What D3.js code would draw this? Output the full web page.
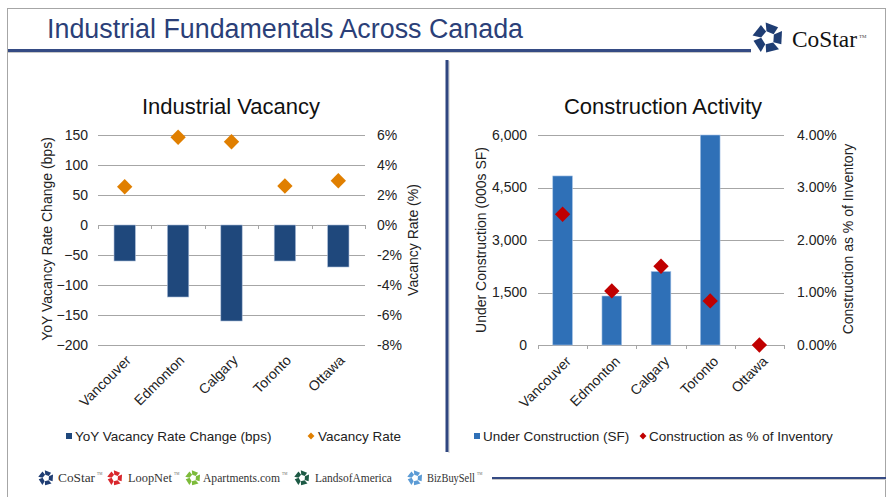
<!DOCTYPE html>
<html>
<head>
<meta charset="utf-8">
<script src="https://cdn.jsdelivr.net/npm/d3@7"></script>
<style>
  body { margin: 0; background: #fff; }
  text { font-family: "Liberation Sans", Arial, sans-serif; }
  .serif { font-family: "Liberation Serif", "Times New Roman", serif; }
</style>
</head>
<body>
<div id="slide"></div>
<script>
//DATA
var cities = ["Vancouver", "Edmonton", "Calgary", "Toronto", "Ottawa"];
var vacancyChange = [-60, -120, -160, -60, -70];      // bps
var vacancyRate = [2.55, 5.85, 5.55, 2.6, 2.95];      // %
var underConstruction = [4830, 1400, 2100, 6000, 0];  // 000s SF
var constructionPct = [2.49, 1.03, 1.5, 0.84, 0];     // % of inventory

var leftTicks = [150, 100, 50, 0, -50, -100, -150, -200];
var rightTicks = [6, 4, 2, 0, -2, -4, -6, -8];
var ucTicks = [0, 1500, 3000, 4500, 6000];
var pctTicks = [0, 1, 2, 3, 4];

var logos = [
  {name: "CoStar", color: "#1f3d73", tm: true},
  {name: "LoopNet", color: "#d9262c", tm: true},
  {name: "Apartments.com", color: "#7dbb3a", tm: true},
  {name: "LandsofAmerica", color: "#1d5a45", tm: false},
  {name: "BizBuySell", color: "#5b9bd5", tm: true}
];

var W = 893, H = 497;
var svg = d3.select("#slide").append("svg")
  .attr("width", W)
  .attr("height", H);

//FRAME
svg.append("rect")
  .attr("x", 7.5).attr("y", 8.5)
  .attr("width", 878).attr("height", 500)
  .attr("fill", "none")
  .attr("stroke", "#a6a6a6")
  .attr("stroke-width", 1);

//TITLE + RULES
svg.append("text")
  .attr("x", 47).attr("y", 38)
  .attr("textLength", 476)
  .attr("lengthAdjust", "spacingAndGlyphs")
  .style("font-size", "27px")
  .style("font-family", "'Liberation Sans Narrow', 'Liberation Sans', Arial, sans-serif")
  .attr("fill", "#2b3f78")
  .text("Industrial Fundamentals Across Canada");

svg.append("line").attr("x1", 8).attr("x2", 751).attr("y1", 52.5).attr("y2", 52.5)
  .attr("stroke", "#c8c8c8").attr("stroke-width", 1);
svg.append("line").attr("x1", 8).attr("x2", 751).attr("y1", 50.5).attr("y2", 50.5)
  .attr("stroke", "#354b84").attr("stroke-width", 3);

svg.append("line").attr("x1", 449).attr("x2", 449).attr("y1", 61).attr("y2", 453)
  .attr("stroke", "#c8c8c8").attr("stroke-width", 1);
svg.append("line").attr("x1", 447).attr("x2", 447).attr("y1", 60).attr("y2", 452)
  .attr("stroke", "#2f4680").attr("stroke-width", 3);

svg.append("line").attr("x1", 492).attr("x2", 886).attr("y1", 479.5).attr("y2", 479.5)
  .attr("stroke", "#c8c8c8").attr("stroke-width", 1);
svg.append("line").attr("x1", 492).attr("x2", 886).attr("y1", 478).attr("y2", 478)
  .attr("stroke", "#354b84").attr("stroke-width", 2);

//LOGO ICON (ring of five blocks)
function drawIcon(g, cx, cy, r, color) {
  for (var i = 0; i < 5; i++) {
    g.append("path")
      .attr("d", "M" + (-r * 0.5) + "," + (-r) + "L" + (r * 0.45) + "," + (-r * 0.95) +
        "L" + (r * 0.3) + "," + (-r * 0.38) + "L" + (-r * 0.25) + "," + (-r * 0.42) + "Z")
      .attr("transform", "translate(" + cx + "," + cy + ") rotate(" + (i * 72 + 18) + ")")
      .attr("fill", color);
  }
}

//squeeze a text horizontally so it fits a given width
function fitText(t, x, y, w) {
  var natural = t.node().getComputedTextLength();
  t.attr("x", 0).attr("y", 0)
    .attr("transform", "translate(" + x + "," + y + ") scale(" + (w / natural) + ",1)");
}

var topLogo = svg.append("g");
drawIcon(topLogo, 768, 38, 14, "#1f3d73");
var costarText = topLogo.append("text").attr("class", "serif")
  .style("font-size", "23px").attr("fill", "#111")
  .text("CoStar");
fitText(costarText, 792, 47, 65);
topLogo.append("text").attr("class", "serif")
  .attr("x", 859).attr("y", 38)
  .style("font-size", "5px").attr("fill", "#444")
  .text("TM");

//BOTTOM LOGOS
var logoX = [46, 115, 193, 302, 415];
var logoTextX = [58, 128, 203, 315, 427];
var logoTextW = [37, 44, 77, 77, 48];
logos.forEach(function(d, i) {
  var g = svg.append("g");
  drawIcon(g, logoX[i], 478, 7, d.color);
  var t = g.append("text").attr("class", "serif")
    .style("font-size", "12.5px").attr("fill", "#333")
    .text(d.name);
  fitText(t, logoTextX[i], 482, logoTextW[i]);
  if (d.tm) {
    g.append("text").attr("class", "serif")
      .attr("x", logoTextX[i] + logoTextW[i] + 2).attr("y", 475)
      .style("font-size", "3.5px").attr("fill", "#666").text("TM");
  }
});

//COMMON AXIS STYLING
function styleAxis(g) {
  g.select(".domain").remove();
  g.selectAll("text")
    .style("font-size", "14px")
    .style("font-family", "'Liberation Sans', Arial, sans-serif")
    .attr("fill", "#222");
}

function diamond(size) {
  return d3.symbol().type(d3.symbolDiamond2).size(size)();
}

//LEFT CHART : INDUSTRIAL VACANCY
(function leftChart() {
  var plot = {left: 98, right: 365, top: 135, bottom: 345};

  var x = d3.scaleBand().domain(cities).range([plot.left, plot.right]);
  var y = d3.scaleLinear().domain([-200, 150]).range([plot.bottom, plot.top]);
  var y2 = d3.scaleLinear().domain([-8, 6]).range([plot.bottom, plot.top]);

  var g = svg.append("g");

  g.append("text")
    .attr("x", 231).attr("y", 114)
    .attr("text-anchor", "middle")
    .style("font-size", "22px").attr("fill", "#111")
    .text("Industrial Vacancy");

  //grid
  g.selectAll("line.grid").data(leftTicks).enter().append("line")
    .attr("class", "grid")
    .attr("x1", plot.left).attr("x2", plot.right)
    .attr("y1", function(d) { return Math.round(y(d)) + 0.5; })
    .attr("y2", function(d) { return Math.round(y(d)) + 0.5; })
    .attr("stroke", "#a6a6a6").attr("stroke-width", 1);

  //category ticks on zero line
  var bounds = cities.map(function(c) { return x(c); }).concat([plot.right]);
  g.selectAll("line.ctick").data(bounds).enter().append("line")
    .attr("class", "ctick")
    .attr("x1", function(d) { return Math.round(d) + 0.5; })
    .attr("x2", function(d) { return Math.round(d) + 0.5; })
    .attr("y1", y(0)).attr("y2", y(0) + 4)
    .attr("stroke", "#a6a6a6");

  //bars
  var bw = x.bandwidth() * 0.4;
  g.selectAll("rect.bar").data(cities).enter().append("rect")
    .attr("class", "bar")
    .attr("x", function(d) { return x(d) + (x.bandwidth() - bw) / 2; })
    .attr("y", y(0))
    .attr("width", bw)
    .attr("height", function(d, i) { return y(vacancyChange[i]) - y(0); })
    .attr("fill", "#1f487c")
    .attr("stroke", "#a9bbd6").attr("stroke-width", 0.6);

  //diamonds
  g.selectAll("path.pt").data(cities).enter().append("path")
    .attr("class", "pt")
    .attr("d", diamond(150))
    .attr("transform", function(d, i) {
      return "translate(" + (x(d) + x.bandwidth() / 2) + "," + y2(vacancyRate[i]) + ")";
    })
    .attr("fill", "#e07f00");

  //axes
  g.append("g")
    .attr("transform", "translate(" + (plot.left - 8) + ",0)")
    .call(d3.axisLeft(y).tickValues(leftTicks).tickSize(0).tickPadding(2))
    .call(styleAxis);

  g.append("g")
    .attr("transform", "translate(" + (plot.right + 10) + ",0)")
    .call(d3.axisRight(y2).tickValues(rightTicks).tickSize(0).tickPadding(2)
      .tickFormat(function(d) { return d + "%"; }))
    .call(styleAxis);

  g.append("g")
    .attr("transform", "translate(0," + plot.bottom + ")")
    .call(d3.axisBottom(x).tickSize(0))
    .call(styleAxis)
    .selectAll("text")
    .attr("text-anchor", "end")
    .attr("dy", 0)
    .attr("transform", "translate(5,14) rotate(-45)");

  //axis titles
  g.append("text")
    .attr("transform", "translate(52,239) rotate(-90)")
    .attr("text-anchor", "middle")
    .style("font-size", "14px").attr("fill", "#222")
    .text("YoY Vacancy Rate Change (bps)");

  g.append("text")
    .attr("transform", "translate(418,240) rotate(-90)")
    .attr("text-anchor", "middle")
    .style("font-size", "14px").attr("fill", "#222")
    .text("Vacancy Rate (%)");

  //legend
  g.append("rect").attr("x", 66).attr("y", 433).attr("width", 6).attr("height", 6)
    .attr("fill", "#1f487c");
  g.append("text").attr("x", 75).attr("y", 441)
    .style("font-size", "13.5px").attr("fill", "#222")
    .text("YoY Vacancy Rate Change (bps)");
  g.append("path").attr("d", diamond(30))
    .attr("transform", "translate(311,436)").attr("fill", "#e07f00");
  g.append("text").attr("x", 318).attr("y", 441)
    .style("font-size", "13.5px").attr("fill", "#222")
    .text("Vacancy Rate");
})();

//RIGHT CHART : CONSTRUCTION ACTIVITY
(function rightChart() {
  var plot = {left: 538, right: 784, top: 135, bottom: 345};

  var x = d3.scaleBand().domain(cities).range([plot.left, plot.right]);
  var y = d3.scaleLinear().domain([0, 6000]).range([plot.bottom, plot.top]);
  var y2 = d3.scaleLinear().domain([0, 4]).range([plot.bottom, plot.top]);

  var g = svg.append("g");

  g.append("text")
    .attr("x", 663).attr("y", 114)
    .attr("text-anchor", "middle")
    .style("font-size", "22px").attr("fill", "#111")
    .text("Construction Activity");

  g.selectAll("line.grid").data(ucTicks).enter().append("line")
    .attr("class", "grid")
    .attr("x1", plot.left).attr("x2", plot.right)
    .attr("y1", function(d) { return Math.round(y(d)) + 0.5; })
    .attr("y2", function(d) { return Math.round(y(d)) + 0.5; })
    .attr("stroke", "#a6a6a6").attr("stroke-width", 1);

  var bounds = cities.map(function(c) { return x(c); }).concat([plot.right]);
  g.selectAll("line.ctick").data(bounds).enter().append("line")
    .attr("class", "ctick")
    .attr("x1", function(d) { return Math.round(d) + 0.5; })
    .attr("x2", function(d) { return Math.round(d) + 0.5; })
    .attr("y1", plot.bottom).attr("y2", plot.bottom + 4)
    .attr("stroke", "#a6a6a6");

  var bw = x.bandwidth() * 0.4;
  g.selectAll("rect.bar").data(cities).enter().append("rect")
    .attr("class", "bar")
    .attr("x", function(d) { return x(d) + (x.bandwidth() - bw) / 2; })
    .attr("y", function(d, i) { return y(underConstruction[i]); })
    .attr("width", bw)
    .attr("height", function(d, i) { return y(0) - y(underConstruction[i]); })
    .attr("fill", "#2f70b7")
    .attr("stroke", "#a8c4e6").attr("stroke-width", 0.6);

  g.selectAll("path.pt").data(cities).enter().append("path")
    .attr("class", "pt")
    .attr("d", diamond(150))
    .attr("transform", function(d, i) {
      return "translate(" + (x(d) + x.bandwidth() / 2) + "," + y2(constructionPct[i]) + ")";
    })
    .attr("fill", "#c00000");

  g.append("g")
    .attr("transform", "translate(" + (plot.left - 9) + ",0)")
    .call(d3.axisLeft(y).tickValues(ucTicks).tickSize(0).tickPadding(2)
      .tickFormat(d3.format(",")))
    .call(styleAxis);

  g.append("g")
    .attr("transform", "translate(" + (plot.right + 11) + ",0)")
    .call(d3.axisRight(y2).tickValues(pctTicks).tickSize(0).tickPadding(2)
      .tickFormat(function(d) { return d.toFixed(2) + "%"; }))
    .call(styleAxis);

  g.append("g")
    .attr("transform", "translate(0," + plot.bottom + ")")
    .call(d3.axisBottom(x).tickSize(0))
    .call(styleAxis)
    .selectAll("text")
    .attr("text-anchor", "end")
    .attr("dy", 0)
    .attr("transform", "translate(7,15) rotate(-45)");

  g.append("text")
    .attr("transform", "translate(486,240) rotate(-90)")
    .attr("text-anchor", "middle")
    .style("font-size", "14px").attr("fill", "#222")
    .text("Under Construction (000s SF)");

  g.append("text")
    .attr("transform", "translate(853,239) rotate(-90)")
    .attr("text-anchor", "middle")
    .style("font-size", "14px").attr("fill", "#222")
    .text("Construction as % of Inventory");

  g.append("rect").attr("x", 474).attr("y", 433).attr("width", 6).attr("height", 6)
    .attr("fill", "#2f70b7");
  g.append("text").attr("x", 483).attr("y", 441)
    .style("font-size", "13.5px").attr("fill", "#222")
    .text("Under Construction (SF)");
  g.append("path").attr("d", diamond(30))
    .attr("transform", "translate(643,436)").attr("fill", "#c00000");
  g.append("text").attr("x", 649).attr("y", 441)
    .style("font-size", "13.5px").attr("fill", "#222")
    .text("Construction as % of Inventory");
})();
</script>
</body>
</html>
